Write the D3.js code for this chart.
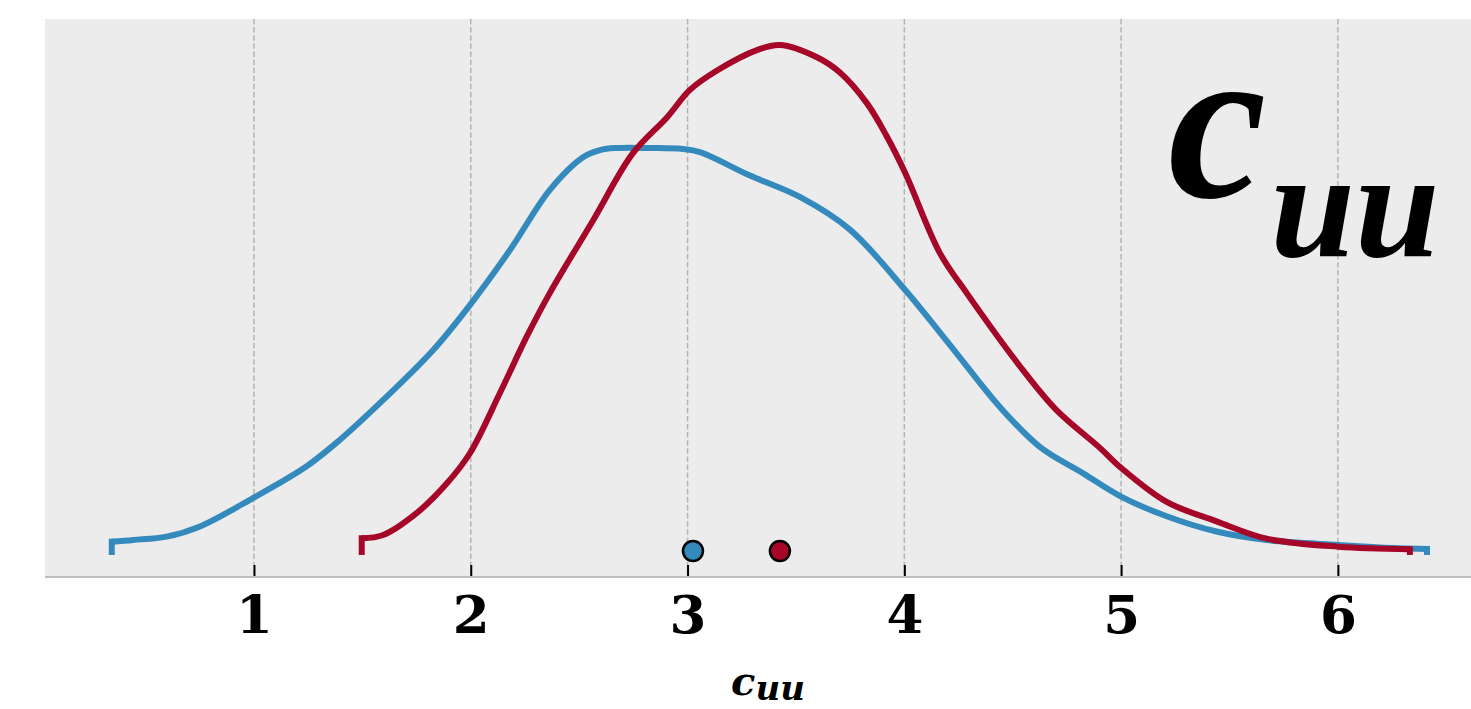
<!DOCTYPE html>
<html>
<head>
<meta charset="utf-8">
<script src="https://cdn.jsdelivr.net/npm/d3@7"></script>
<style>
  html, body { margin: 0; padding: 0; background: #fff; }
  svg { display: block; }
</style>
</head>
<body>
<svg id="chart"></svg>
<script>
(function() {

    // posterior density, first fit (blue)
    const blueX = [0.344, 0.443, 0.597, 0.751, 0.997, 1.243, 1.397, 1.596, 1.827, 1.996, 2.181, 2.365, 2.518, 2.596, 2.674, 2.827, 2.979, 3.057, 3.288, 3.518, 3.749, 4.003, 4.210, 4.441, 4.625, 4.825, 5.002, 5.210, 5.440, 5.671, 6.001, 6.194, 6.411];
    const blueY = [0.013, 0.0147, 0.018, 0.028, 0.056, 0.087, 0.113, 0.152, 0.201, 0.245, 0.299, 0.358, 0.390, 0.397, 0.399, 0.399, 0.398, 0.395, 0.372, 0.351, 0.319, 0.260, 0.206, 0.145, 0.106, 0.080, 0.057, 0.038, 0.023, 0.0147, 0.0098, 0.0074, 0.0059];

    // posterior density, second fit (red)
    const redX = [1.497, 1.596, 1.750, 1.889, 1.996, 2.135, 2.258, 2.365, 2.564, 2.748, 2.905, 3.011, 3.136, 3.320, 3.426, 3.597, 3.703, 3.827, 3.915, 4.003, 4.164, 4.287, 4.548, 4.702, 4.902, 5.002, 5.210, 5.440, 5.671, 6.001, 6.332];
    const redY = [0.0164, 0.0196, 0.041, 0.070, 0.0997, 0.159, 0.214, 0.257, 0.328, 0.394, 0.429, 0.456, 0.475, 0.495, 0.500, 0.488, 0.473, 0.443, 0.412, 0.375, 0.296, 0.257, 0.181, 0.142, 0.105, 0.085, 0.052, 0.033, 0.016, 0.0081, 0.0056];

    // point estimates (means)
    const means = [3.025, 3.426];
    const colors = ['#348ABD', '#A60628'];

    const tickValues = [1, 2, 3, 4, 5, 6];

    const w = 1471;
    const h = 709;
    const plot = { left: 45, right: 1471, top: 19, bottom: 577 };

    const x = d3.scaleLinear().domain([0.036, 6.614]).range([plot.left, plot.right]);
    const y = d3.scaleLinear().domain([-0.0216, 0.5255]).range([plot.bottom, plot.top]);

    const svg = d3.select('#chart')
        .attr('width', w)
        .attr('height', h);

    svg.append('rect')
        .attr('x', plot.left)
        .attr('y', plot.top)
        .attr('width', plot.right - plot.left)
        .attr('height', plot.bottom - plot.top)
        .attr('fill', '#ececec');

    // dashed vertical grid
    svg.selectAll('.grid')
        .data(tickValues)
        .enter()
        .append('line')
        .attr('class', 'grid')
        .attr('x1', d => x(d))
        .attr('x2', d => x(d))
        .attr('y1', plot.top)
        .attr('y2', plot.bottom)
        .attr('stroke', '#b4b4b4')
        .attr('stroke-width', 1.5)
        .attr('stroke-dasharray', '5.5,2.6');

    // big label in the corner
    const big = svg.append('text')
        .attr('x', 1168)
        .attr('y', 197)
        .attr('font-family', '"Liberation Serif", serif')
        .attr('font-style', 'italic')
        .attr('font-weight', 'bold')
        .attr('fill', '#000');
    big.append('tspan').attr('font-size', 222).text('c');
    big.append('tspan').attr('font-size', 152).attr('dx', 4).attr('dy', 59).text('uu');

    // density curves, with the end hooks down to zero
    const line = d3.line()
        .x(d => x(d[0]))
        .y(d => y(d[1]))
        .curve(d3.curveCatmullRom.alpha(0.5));

    const series = [[blueX, blueY], [redX, redY]];

    series.forEach(([xs, ys], i) => {
        const pts = xs.map((v, j) => [v, ys[j]]);
        svg.append('path')
            .attr('d', line(pts))
            .attr('fill', 'none')
            .attr('stroke', colors[i])
            .attr('stroke-width', 6)
            .attr('stroke-linejoin', 'round');
        // hooks at both ends
        [pts[0], pts[pts.length - 1]].forEach(p => {
            svg.append('line')
                .attr('x1', x(p[0]))
                .attr('x2', x(p[0]))
                .attr('y1', y(p[1]) - 3)
                .attr('y2', y(0))
                .attr('stroke', colors[i])
                .attr('stroke-width', 6);
        });
    });

    // point estimate markers
    svg.selectAll('.mean')
        .data(means)
        .enter()
        .append('circle')
        .attr('class', 'mean')
        .attr('cx', d => x(d))
        .attr('cy', y(0) - 4)
        .attr('r', 10)
        .attr('fill', (d, i) => colors[i])
        .attr('stroke', '#000')
        .attr('stroke-width', 2.5);

    // bottom axis
    svg.append('line')
        .attr('x1', plot.left)
        .attr('x2', plot.right)
        .attr('y1', plot.bottom)
        .attr('y2', plot.bottom)
        .attr('stroke', '#bcbcbc')
        .attr('stroke-width', 2);

    const axis = d3.axisBottom(x)
        .tickValues(tickValues)
        .tickSize(-11)
        .tickPadding(0)
        .tickFormat(d3.format('d'));

    const gx = svg.append('g')
        .attr('transform', `translate(0, ${plot.bottom - 1})`)
        .call(axis);

    gx.select('.domain').remove();
    gx.selectAll('.tick line')
        .attr('stroke', '#000')
        .attr('stroke-width', 2);
    gx.selectAll('.tick text')
        .attr('y', 57)
        .attr('dy', null)
        .attr('fill', '#000')
        .attr('font-family', '"DejaVu Serif", serif')
        .attr('font-weight', 'bold')
        .attr('font-size', 53);

    // x label
    const xl = svg.append('text')
        .attr('x', 768)
        .attr('y', 695)
        .attr('text-anchor', 'middle')
        .attr('font-family', '"DejaVu Serif", serif')
        .attr('font-style', 'italic')
        .attr('font-weight', 'bold')
        .attr('fill', '#000');
    xl.append('tspan').attr('font-size', 40).text('c');
    xl.append('tspan').attr('font-size', 34).attr('dy', 5).text('uu');

})();
</script>
</body>
</html>
